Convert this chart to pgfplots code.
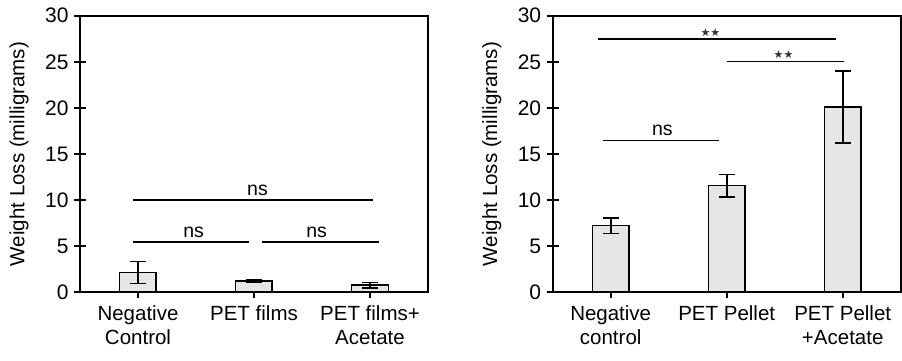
\documentclass[border=0pt]{standalone}
\usepackage{pgfplots}
\pgfplotsset{compat=1.18}
\usepackage{fontspec}
\setmainfont{Liberation Sans}
\newfontfamily\symfont{DejaVu Sans}
\definecolor{barfill}{RGB}{230,230,230}
\definecolor{stargray}{RGB}{50,50,50}
\begin{document}
\begin{tikzpicture}
\useasboundingbox (-80pt,-67.7pt) rectangle (822pt,292.3pt);
\pgfplotsset{
  myax/.style={
    scale only axis, width=348pt, height=276.6pt,
    xmin=-0.5, xmax=2.5, ymin=0, ymax=30,
    ytick={0,5,10,15,20,25,30}, xtick={0,1,2},
    axis line style={line width=1.7pt},
    tick style={black, line width=1.7pt},
    major tick length=12pt,
    tick align=center,
    xtick pos=bottom, ytick pos=left,
    /pgf/number format/assume math mode=true,
    yticklabel style={font=\fontsize{21}{25}\selectfont, xshift=-2pt},
    xticklabel style={font=\fontsize{20.5}{23.5}\selectfont, align=center, anchor=north, yshift=-4pt},
    ylabel={Weight Loss (milligrams)},
    ylabel style={font=\fontsize{20.5}{24}\selectfont, at={(axis description cs:-0.175,0.5)}, anchor=center},
  },
  mybar/.style={ybar, bar width=36.7pt, fill=barfill, draw=black, line width=1.7pt,
    error bars/.cd, y dir=both, y explicit,
    error bar style={line width=1.7pt, black},
    error mark options={rotate=90, mark size=8pt, line width=1.7pt, black}},
}
% Left panel
\begin{axis}[myax, at={(0pt,0pt)},
  xticklabels={{Negative\\Control},{PET films},{PET films+\\Acetate}}]
\addplot[mybar] coordinates {(0,2.15) +- (0,1.2) (1,1.2) +- (0,0.1) (2,0.76) +- (0,0.3)};
\draw[line width=1.7pt] (axis cs:-0.04,10) -- (axis cs:2.03,10);
\node[anchor=south, inner sep=0pt, font=\fontsize{19.5}{23}\selectfont] at (axis cs:1.03,10.5) {ns};
\draw[line width=1.7pt] (axis cs:-0.04,5.46) -- (axis cs:0.96,5.46);
\node[anchor=south, inner sep=0pt, font=\fontsize{19.5}{23}\selectfont] at (axis cs:0.48,5.9) {ns};
\draw[line width=1.7pt] (axis cs:1.07,5.46) -- (axis cs:2.08,5.46);
\node[anchor=south, inner sep=0pt, font=\fontsize{19.5}{23}\selectfont] at (axis cs:1.54,5.9) {ns};
\end{axis}
% Right panel
\begin{axis}[myax, at={(472.7pt,0pt)},
  xticklabels={{Negative\\control},{PET Pellet},{PET Pellet\\+Acetate}}]
\addplot[mybar] coordinates {(0,7.23) +- (0,0.85) (1,11.57) +- (0,1.2) (2,20.1) +- (0,3.9)};
\draw[line width=1.7pt] (axis cs:-0.11,27.47) -- (axis cs:1.945,27.47);
\node[anchor=south, inner sep=0pt, text=stargray, font=\symfont\fontsize{11}{12}\selectfont] at (axis cs:0.86,27.75) {★★};
\draw[line width=1.7pt] (axis cs:1.0,25.04) -- (axis cs:2.01,25.04);
\node[anchor=south, inner sep=0pt, text=stargray, font=\symfont\fontsize{11}{12}\selectfont] at (axis cs:1.49,25.35) {★★};
\draw[line width=1.7pt] (axis cs:-0.07,16.46) -- (axis cs:0.93,16.46);
\node[anchor=south, inner sep=0pt, font=\fontsize{19.5}{23}\selectfont] at (axis cs:0.445,17.0) {ns};
\end{axis}
\end{tikzpicture}
\end{document}
